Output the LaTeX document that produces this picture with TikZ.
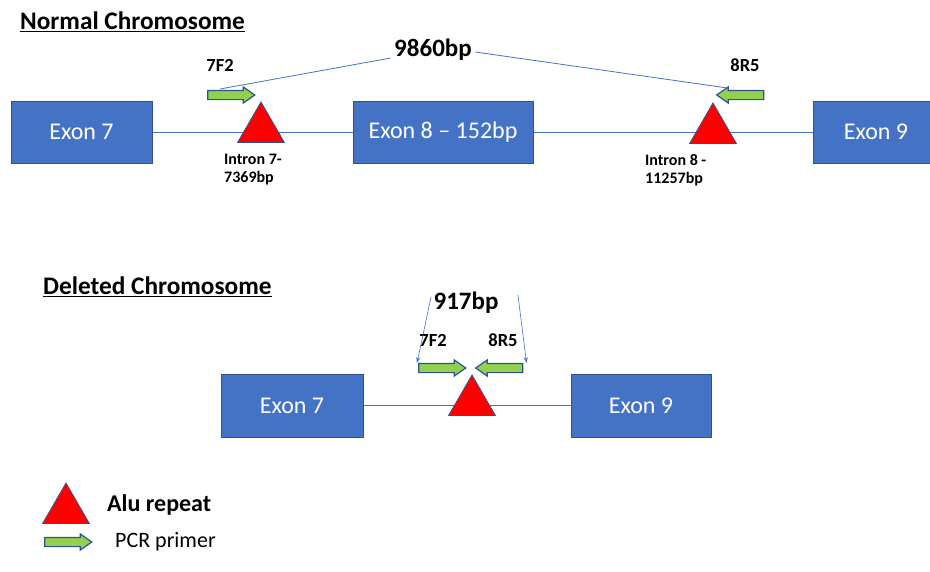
\documentclass[tikz,border=0pt]{standalone}
\usepackage{fontspec}
\setmainfont{Carlito}
\usetikzlibrary{calc, positioning}
\usetikzlibrary{arrows.meta}
\usetikzlibrary{shapes.geometric, shapes.arrows}
\definecolor{exonblue}{RGB}{68,114,196}
\definecolor{exonedge}{RGB}{47,82,143}
\definecolor{primergreen}{RGB}{146,208,80}
\def\bw{141pt}
\def\bh{62pt}
\tikzset{
    exon/.style = {
        draw=exonedge, fill=exonblue, rectangle, minimum width=\bw, minimum height=\bh, line width=1pt, text=white, font=\fontsize{24}{27}\selectfont
    },
    alu/.style = {
        regular polygon, regular polygon sides=3, minimum size=54pt, inner sep=0pt, fill=red, draw=exonedge, line width=0.8pt
    },
    primer/.style = {
        single arrow, fill=primergreen, draw=exonedge, line width=1.2pt, inner xsep=0pt, inner ysep=4pt, minimum height=47pt, single arrow head extend=3.5pt, single arrow tip angle=70
    },
    dna/.style = {draw=exonblue, line width=0.8pt},
    size/.style = {font=\bfseries\fontsize{25}{28}\selectfont},
    primername/.style = {font=\bfseries\fontsize{18.5}{20}\selectfont},
    intron/.style = {font=\bfseries\fontsize{16}{18}\selectfont, align=left, anchor=west, inner sep=0pt},
    heading/.style = {font=\bfseries\fontsize{25.3}{28}\selectfont, anchor=west, inner sep=0pt},
}

\begin{document}
\begin{tikzpicture}[x=1pt, y=-1pt]
        \useasboundingbox (0,0) rectangle (930,571);
        % Normal chromosome
        \node[heading] (hnorm) at (20,22) {\underline{Normal Chromosome}};
        \node[exon] (ex7) at (81.5,132) {Exon 7};
        \node[exon, minimum width=180pt] (ex8) at (443,132) {Exon 8 -- 152bp};
        \node[exon, minimum width=126pt] (ex9) at (876,132) {Exon 9};
        \draw[dna] (ex7) -- (ex8);
        \draw[dna] (ex8) -- (ex9);
        \node[alu] (tri7) at (261,129) {};
        \node[alu] (tri8) at (713,130) {};
        \node[intron] (in7) at (224,170) {Intron 7-\\7369bp};
        \node[intron] (in8) at (645,170) {Intron 8 -\\11257bp};
        \node[primer] (f2a) at (228,95) {};
        \node[primer, shape border rotate=180] (r5a) at (743.5,95) {};
        \node[primername] (lf2a) at (220,65) {7F2};
        \node[primername] (lr5a) at (745,65) {8R5};
        \node[size] (bp1) at (433,50) {9860bp};
        \draw[dna] ([yshift=-8pt] bp1.west) -- ([shift={(-8pt,6pt)}] f2a.center);
        \draw[dna] ([yshift=-2pt] bp1.east) -- ([shift={(-16pt,7pt)}] r5a.center);

        % Deleted chromosome
        \node[heading] (hdel) at (43,287) {\underline{Deleted Chromosome}};
        \node[exon, minimum width=142pt, minimum height=63pt] (dex7) at (292,405.5) {Exon 7};
        \node[exon, minimum width=140pt, minimum height=63pt] (dex9) at (641,405.5) {Exon 9};
        \draw[dna] (dex7) -- (dex9);
        \node[alu] (dtri) at (472,402) {};
        \node[primer] (f2b) at (439,368) {};
        \node[primer, shape border rotate=180] (r5b) at (502.5,368) {};
        \node[primername] (lf2b) at (433,340) {7F2};
        \node[primername] (lr5b) at (503,340) {8R5};
        \node[size] (bp2) at (466,303) {917bp};
        \begin{scope}[dna, line width=0.6pt, -{Stealth[length=6pt, width=4pt]}]
            \draw ([shift={(1pt,6pt)}] bp2.west) -- ([shift={(-22pt,5pt)}] f2b.center);
            \draw ([shift={(16pt,8pt)}] bp2.east) -- ([shift={(24pt,5pt)}] r5b.center);
        \end{scope}

        % Legend
        \node[alu] (legtri) at (66,510) {};
        \node[heading, font=\bfseries\fontsize{24}{28}\selectfont] (legalu) at (107,505) {Alu repeat};
        \node[primer] (legarr) at (65,542) {};
        \node[anchor=west, inner sep=0pt, font=\fontsize{22}{26}\selectfont] (legpcr) at (115,542) {PCR primer};
\end{tikzpicture}
\end{document}
